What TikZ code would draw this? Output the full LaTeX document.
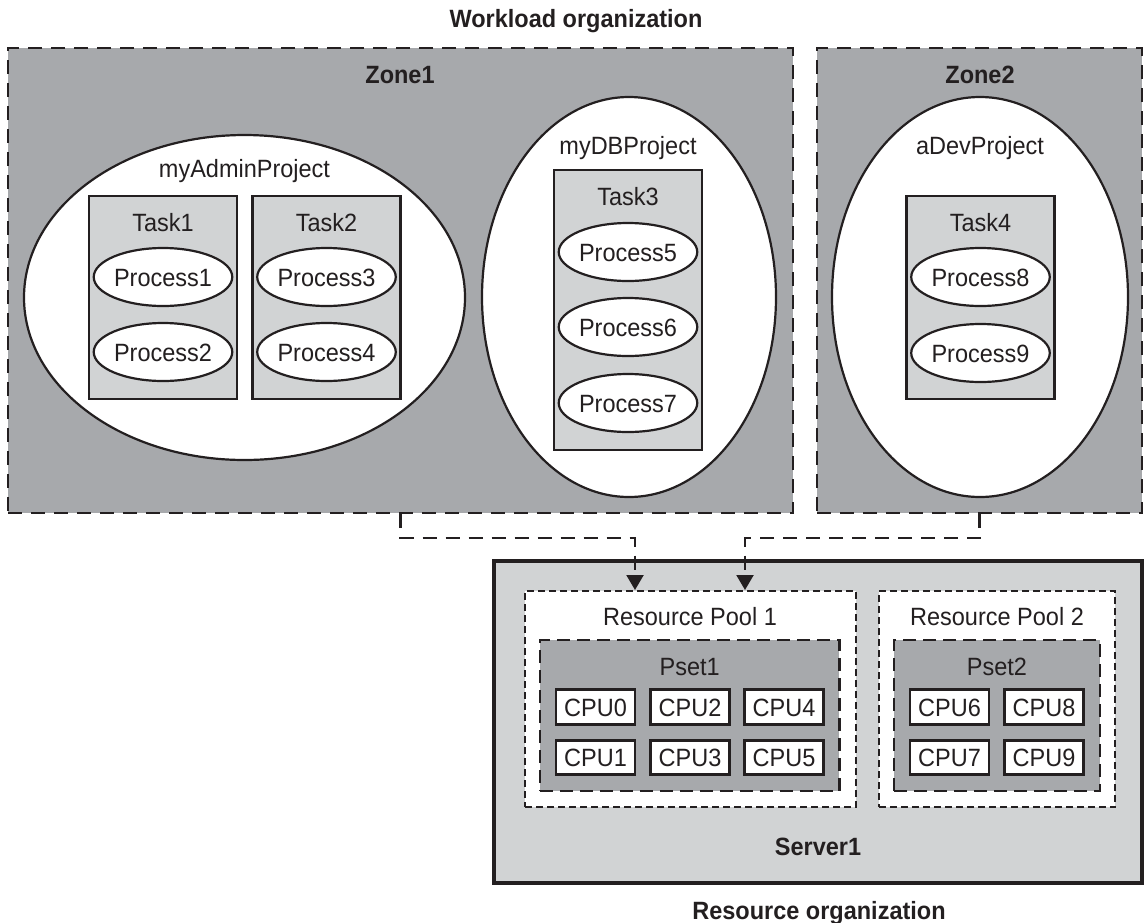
\documentclass[tikz,border=0pt]{standalone}
\usepackage{fontspec}
\setmainfont[FakeStretch=0.94]{Liberation Sans}
\usetikzlibrary{shapes.geometric,arrows.meta}
\definecolor{ink}{HTML}{231F20}
\definecolor{zonegray}{HTML}{A7A9AC}
\definecolor{taskgray}{HTML}{D1D3D4}
\begin{document}
\begin{tikzpicture}[x=1pt,y=-1pt,
  txt/.style={font=\fontsize{25}{30}\selectfont, inner sep=0pt, text height=18pt, text depth=0pt, text=ink},
  btxt/.style={txt, font=\fontsize{25}{30}\selectfont\bfseries},
  zone/.style={rectangle, draw=ink, line width=2.2pt, dash pattern=on 14pt off 9pt, fill=zonegray, inner sep=0pt},
  proj/.style={ellipse, draw=ink, line width=2.2pt, fill=white, inner sep=0pt},
  taskbox/.style={rectangle, draw=ink, line width=2.2pt, fill=taskgray, inner sep=0pt, minimum width=148pt},
  proc/.style={ellipse, draw=ink, line width=2.2pt, fill=white, inner sep=0pt, minimum width=115pt, minimum height=58pt, txt},
  server/.style={rectangle, draw=ink, line width=3.5pt, fill=taskgray, inner sep=0pt},
  pool/.style={rectangle, draw=ink, line width=2.2pt, dash pattern=on 7pt off 4pt, fill=white, inner sep=0pt, minimum height=216pt},
  pset/.style={rectangle, draw=ink, line width=2.2pt, dash pattern=on 13pt off 7pt, fill=zonegray, inner sep=0pt, minimum height=151pt},
  cpu/.style={rectangle, draw=ink, line width=2.6pt, fill=white, inner sep=0pt, minimum width=79pt, minimum height=34.5pt, txt},
  conn/.style={draw=ink, line width=2.2pt, dash pattern=on 14pt off 9pt, -{Triangle[length=15pt,width=17pt]}}
]
\useasboundingbox (0,0) rectangle (1144,922);

% titles
\node[btxt] (wlt) at (576,18) {Workload organization};
\node[btxt] (rst) at (819,910) {Resource organization};

% zones
\node[zone, minimum width=785pt, minimum height=465pt] (Zone1) at (400.5,280.5) {};
\node[zone, minimum width=325pt, minimum height=465pt] (Zone2) at (979.5,280.5) {};
\node[btxt] (z1l) at (400,74) {Zone1};
\node[btxt] (z2l) at (980,74) {Zone2};

% projects
\node[proj, minimum width=441pt, minimum height=325pt] (pAdmin) at (244.5,297.5) {};
\node[proj, minimum width=294pt, minimum height=400pt] (pDB) at (629,297) {};
\node[proj, minimum width=296pt, minimum height=400pt] (pDev) at (980,297) {};
\node[txt] (pAdminl) at (244.5,168) {myAdminProject};
\node[txt] (pDBl) at (628,145) {myDBProject};
\node[txt] (pDevl) at (980,145) {aDevProject};

% tasks
\node[taskbox, minimum height=203pt] (Task1) at (163,297.5) {};
\node[taskbox, minimum height=203pt] (Task2) at (326.5,297.5) {};
\node[taskbox, minimum height=280pt] (Task3) at (628,310) {};
\node[taskbox, minimum height=203pt] (Task4) at (980.5,297.5) {};
\node[txt] (t1l) at (163,222) {Task1};
\node[txt] (t2l) at (326.5,222) {Task2};
\node[txt] (t3l) at (628,196) {Task3};
\node[txt] (t4l) at (980.5,222) {Task4};

% processes
\node[proc] (P1) at (163,277) {Process1};
\node[proc] (P2) at (163,352) {Process2};
\node[proc] (P3) at (326.5,277) {Process3};
\node[proc] (P4) at (326.5,352) {Process4};
\node[proc] (P5) at (628,252) {Process5};
\node[proc] (P6) at (628,327) {Process6};
\node[proc] (P7) at (628,403) {Process7};
\node[proc] (P8) at (980.5,277) {Process8};
\node[proc] (P9) at (980.5,353) {Process9};

% server
\node[server, minimum width=648pt, minimum height=322pt] (Server1) at (818,722) {};
\node[btxt] (s1l) at (818,846) {Server1};
\node[pool, minimum width=331pt] (RP1) at (690.5,699) {};
\node[pool, minimum width=236.5pt] (RP2) at (997,699) {};
\node[txt] (rp1l) at (690,616) {Resource Pool 1};
\node[txt] (rp2l) at (997,616) {Resource Pool 2};
\node[pset, minimum width=299.5pt] (Pset1) at (689.7,715.5) {};
\node[pset, minimum width=205.5pt] (Pset2) at (997,715.5) {};
\node[txt] (ps1l) at (689.7,666) {Pset1};
\node[txt] (ps2l) at (997,666) {Pset2};

\node[cpu] (CPU0) at (595.5,707) {CPU0};
\node[cpu] (CPU1) at (595.5,757.5) {CPU1};
\node[cpu] (CPU2) at (690,707) {CPU2};
\node[cpu] (CPU3) at (690,757.5) {CPU3};
\node[cpu] (CPU4) at (784,707) {CPU4};
\node[cpu] (CPU5) at (784,757.5) {CPU5};
\node[cpu] (CPU6) at (949.5,707) {CPU6};
\node[cpu] (CPU7) at (949.5,757.5) {CPU7};
\node[cpu] (CPU8) at (1044,707) {CPU8};
\node[cpu] (CPU9) at (1044,757.5) {CPU9};

% connectors
\coordinate (in1) at (635,590);
\coordinate (in2) at (745,590);
\draw[conn] (Zone1.south) -- ++(0,24) -| (in1);
\draw[conn] (Zone2.south) -- ++(0,24) -| (in2);
\end{tikzpicture}
\end{document}
